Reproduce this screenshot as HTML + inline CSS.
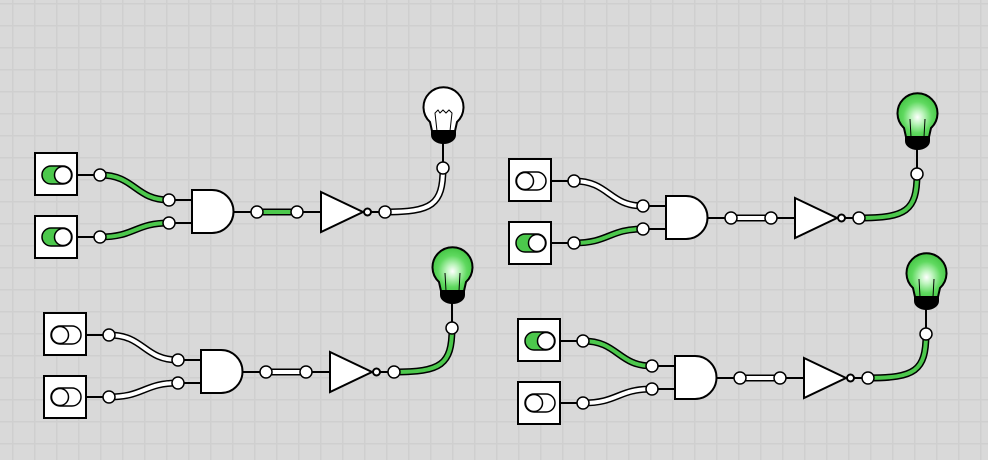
<!DOCTYPE html>
<html><head><meta charset="utf-8"><style>
html,body{margin:0;padding:0;}
body{width:988px;height:460px;overflow:hidden;background:#d9d9d9;
background-image:linear-gradient(to right,#cfcfcf 0,#cfcfcf 1.5px,transparent 1.5px),linear-gradient(to bottom,#cfcfcf 0,#cfcfcf 1.5px,transparent 1.5px);
background-size:22px 22px;background-position:12px 3px;}
svg{position:absolute;left:0;top:0}
</style></head><body>
<svg width="988" height="460" viewBox="0 0 988 460">
<defs>
<radialGradient id="gl" cx="0.5" cy="0.55" r="0.6">
<stop offset="0" stop-color="#ffffff"/><stop offset="0.25" stop-color="#bff5bf"/><stop offset="0.6" stop-color="#5fd95f"/><stop offset="1" stop-color="#3cbf3c"/>
</radialGradient>
<g id="base">
<rect x="35" y="153" width="42" height="42" fill="#fff" stroke="#000" stroke-width="2"/>
<rect x="35" y="216" width="42" height="42" fill="#fff" stroke="#000" stroke-width="2"/>
<line x1="77" y1="175" x2="100" y2="175" stroke="#000" stroke-width="2"/>
<line x1="77" y1="237" x2="100" y2="237" stroke="#000" stroke-width="2"/>
<line x1="169" y1="200" x2="192" y2="200" stroke="#000" stroke-width="2"/>
<line x1="169" y1="223" x2="192" y2="223" stroke="#000" stroke-width="2"/>
<path d="M192,190 H212 A21.5,21.5 0 0 1 212,233 H192 Z" fill="#fff" stroke="#000" stroke-width="2"/>
<line x1="233" y1="212" x2="257" y2="212" stroke="#000" stroke-width="2"/>
<line x1="297" y1="212" x2="321" y2="212" stroke="#000" stroke-width="2"/>
<polygon points="321,192 363,212 321,232" fill="#fff" stroke="#000" stroke-width="2"/>
<circle cx="367.5" cy="212" r="3.5" fill="#fff" stroke="#000" stroke-width="2"/>
<line x1="371" y1="212" x2="385" y2="212" stroke="#000" stroke-width="2"/>
<line x1="443" y1="168" x2="443" y2="142" stroke="#000" stroke-width="2"/>
</g>
<path id="bb" d="M431,130 H456 V135 A12.5,9 0 0 1 431,135 Z" fill="#000"/>
<g id="nodes" fill="#fff" stroke="#000" stroke-width="1.5">
<circle cx="100" cy="175" r="6"/><circle cx="100" cy="237" r="6"/>
<circle cx="169" cy="200" r="6"/><circle cx="169" cy="223" r="6"/>
<circle cx="257" cy="212" r="6"/><circle cx="297" cy="212" r="6"/>
<circle cx="385" cy="212" r="6"/><circle cx="443" cy="168" r="6"/>
</g>
<path id="bulb" d="M432,131 L430,122 A20,20 0 1 1 457,122 L455,131 Z" stroke="#000" stroke-width="2"/>
<path id="w1" d="M100,175 C135,175 135,200 169,200" fill="none"/>
<path id="w2" d="M100,237 C135,237 135,223 169,223" fill="none"/>
<path id="w3" d="M257,212 H297" fill="none"/>
<path id="w4" d="M385,212 C432,212 443,205 443,168" fill="none"/>
</defs>

<!-- Circuit 1 -->
<g>
<use href="#w1" stroke="#000" stroke-width="7"/><use href="#w1" stroke="#4cc84c" stroke-width="4"/>
<use href="#w2" stroke="#000" stroke-width="7"/><use href="#w2" stroke="#4cc84c" stroke-width="4"/>
<use href="#w3" stroke="#000" stroke-width="7"/><use href="#w3" stroke="#4cc84c" stroke-width="4"/>
<use href="#w4" stroke="#000" stroke-width="7"/><use href="#w4" stroke="#fff" stroke-width="4"/>
<use href="#base"/>
<rect x="42" y="166" width="30" height="18" rx="9" fill="#4cc84c" stroke="#000" stroke-width="1.5"/><circle cx="63" cy="175" r="8.5" fill="#fff" stroke="#000" stroke-width="1.5"/>
<rect x="42" y="228" width="30" height="18" rx="9" fill="#4cc84c" stroke="#000" stroke-width="1.5"/><circle cx="63" cy="237" r="8.5" fill="#fff" stroke="#000" stroke-width="1.5"/>
<use href="#bulb" fill="#fff"/><use href="#bb"/>
<path d="M437,131 L435,113 L438,110 L440,113 L443,110 L446,113 L449,110 L452,113 L450,131" fill="none" stroke="#000" stroke-width="1"/>
<use href="#nodes"/>
</g>

<!-- Circuit 2 -->
<g transform="translate(474,6)">
<use href="#w1" stroke="#000" stroke-width="7"/><use href="#w1" stroke="#fff" stroke-width="4"/>
<use href="#w2" stroke="#000" stroke-width="7"/><use href="#w2" stroke="#4cc84c" stroke-width="4"/>
<use href="#w3" stroke="#000" stroke-width="7"/><use href="#w3" stroke="#fff" stroke-width="4"/>
<use href="#w4" stroke="#000" stroke-width="7"/><use href="#w4" stroke="#4cc84c" stroke-width="4"/>
<use href="#base"/>
<rect x="42" y="166" width="30" height="18" rx="9" fill="#fff" stroke="#000" stroke-width="1.5"/><circle cx="51" cy="175" r="8.5" fill="#fff" stroke="#000" stroke-width="1.5"/>
<rect x="42" y="228" width="30" height="18" rx="9" fill="#4cc84c" stroke="#000" stroke-width="1.5"/><circle cx="63" cy="237" r="8.5" fill="#fff" stroke="#000" stroke-width="1.5"/>
<use href="#bulb" fill="url(#gl)"/><use href="#bb"/>
<path d="M437,131 L436,113 M450,131 L451,113" fill="none" stroke="#000" stroke-width="1"/>
<use href="#nodes"/>
</g>

<!-- Circuit 3 -->
<g transform="translate(9,160)">
<use href="#w1" stroke="#000" stroke-width="7"/><use href="#w1" stroke="#fff" stroke-width="4"/>
<use href="#w2" stroke="#000" stroke-width="7"/><use href="#w2" stroke="#fff" stroke-width="4"/>
<use href="#w3" stroke="#000" stroke-width="7"/><use href="#w3" stroke="#fff" stroke-width="4"/>
<use href="#w4" stroke="#000" stroke-width="7"/><use href="#w4" stroke="#4cc84c" stroke-width="4"/>
<use href="#base"/>
<rect x="42" y="166" width="30" height="18" rx="9" fill="#fff" stroke="#000" stroke-width="1.5"/><circle cx="51" cy="175" r="8.5" fill="#fff" stroke="#000" stroke-width="1.5"/>
<rect x="42" y="228" width="30" height="18" rx="9" fill="#fff" stroke="#000" stroke-width="1.5"/><circle cx="51" cy="237" r="8.5" fill="#fff" stroke="#000" stroke-width="1.5"/>
<use href="#bulb" fill="url(#gl)"/><use href="#bb"/>
<path d="M437,131 L436,113 M450,131 L451,113" fill="none" stroke="#000" stroke-width="1"/>
<use href="#nodes"/>
</g>

<!-- Circuit 4 -->
<g transform="translate(483,166)">
<use href="#w1" stroke="#000" stroke-width="7"/><use href="#w1" stroke="#4cc84c" stroke-width="4"/>
<use href="#w2" stroke="#000" stroke-width="7"/><use href="#w2" stroke="#fff" stroke-width="4"/>
<use href="#w3" stroke="#000" stroke-width="7"/><use href="#w3" stroke="#fff" stroke-width="4"/>
<use href="#w4" stroke="#000" stroke-width="7"/><use href="#w4" stroke="#4cc84c" stroke-width="4"/>
<use href="#base"/>
<rect x="42" y="166" width="30" height="18" rx="9" fill="#4cc84c" stroke="#000" stroke-width="1.5"/><circle cx="63" cy="175" r="8.5" fill="#fff" stroke="#000" stroke-width="1.5"/>
<rect x="42" y="228" width="30" height="18" rx="9" fill="#fff" stroke="#000" stroke-width="1.5"/><circle cx="51" cy="237" r="8.5" fill="#fff" stroke="#000" stroke-width="1.5"/>
<use href="#bulb" fill="url(#gl)"/><use href="#bb"/>
<path d="M437,131 L436,113 M450,131 L451,113" fill="none" stroke="#000" stroke-width="1"/>
<use href="#nodes"/>
</g>
</svg>
</body></html>
